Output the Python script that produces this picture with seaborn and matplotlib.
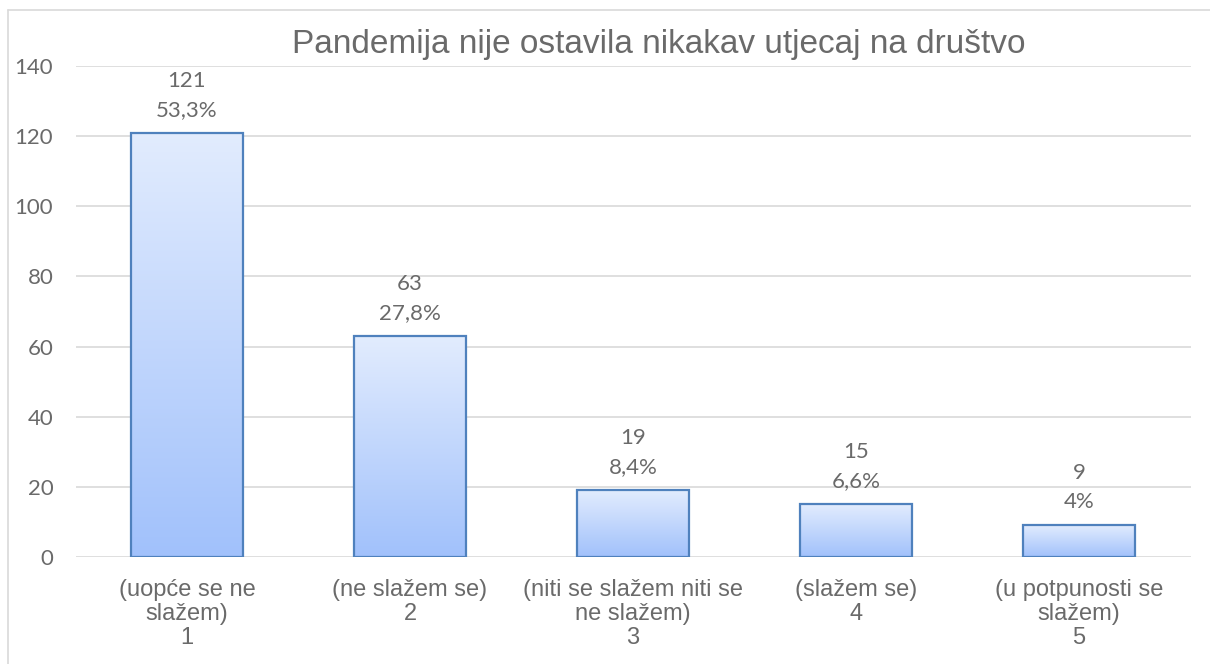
import numpy as np
import pandas as pd
import seaborn as sns
from matplotlib import pyplot as plt
from matplotlib.colors import LinearSegmentedColormap

categories = ["(uopće se ne\nslažem)\n1", "(ne slažem se)\n2", "(niti se slažem niti se\nne slažem)\n3",
	"(slažem se)\n4", "(u potpunosti se\nslažem)\n5"]
counts = [121, 63, 19, 15, 9]
percents = ["53,3%", "27,8%", "8,4%", "6,6%", "4%"]
title = "Pandemija nije ostavila nikakav utjecaj na društvo"

df = pd.DataFrame({"cat": categories, "n": counts, "pct": percents})

sns.set_theme(style="white")
plt.rcParams['font.family'] = ['Liberation Sans', 'DejaVu Sans']
grey = "#6a6a6a"

fig = plt.figure(figsize=(12.10, 6.64), dpi=100)
ax = fig.add_axes([75.5/1210, 1-557/664, 1115/1210, 491/664])

sns.barplot(data=df, x="cat", y="n", ax=ax, width=0.502, color="#a1c1fb",
	edgecolor="#4f81bd", linewidth=1.6, zorder=3)

# gradient fill clipped to each bar
grad = LinearSegmentedColormap.from_list("g", ["#a1c1fb", "#e2ecfe"])
for p in ax.patches:
	x0, y0 = p.get_x(), p.get_y()
	w, h = p.get_width(), p.get_height()
	im = ax.imshow(np.linspace(0, 1, 256).reshape(-1, 1), cmap=grad, aspect="auto",
		origin="lower", extent=[x0, x0+w, y0, y0+h], zorder=3.5)
	im.set_clip_path(p)
	p.set_facecolor("none")
	p.set_zorder(4)

ax.set_xlim(-0.5, 4.5)
ax.set_ylim(0, 140)
ax.set_yticks(range(0, 141, 20))
ax.yaxis.grid(True, color="#d9d9d9", lw=1.2, zorder=0)
ax.xaxis.grid(False)
for s in ax.spines.values():
	s.set_visible(False)
ax.set_xlabel("")
ax.set_ylabel("")
ax.tick_params(axis="y", length=0, pad=16, labelsize=16, labelcolor=grey)
ax.tick_params(axis="x", length=0, pad=15.5, labelsize=17, labelcolor=grey)
for t in ax.get_yticklabels():
	t.set_fontfamily("Lato")
for t in ax.get_xticklabels():
	t.set_linespacing(1.12)

for i, (n, pc) in enumerate(zip(counts, percents)):
	ax.annotate(str(n), (i, n), xytext=(0, 52), textcoords="offset pixels",
		ha="center", va="center", fontsize=16, color=grey, family="Lato")
	ax.annotate(pc, (i, n), xytext=(0, 23), textcoords="offset pixels",
		ha="center", va="center", fontsize=16, color=grey, family="Lato")

fig.text(658.5/1210, 1-45/664, title, ha="center", va="center", fontsize=24, color=grey)

# chart area border
fig.add_artist(plt.Line2D([8/1210, 8/1210], [0, 1-10/664], color="#d9d9d9", lw=1.2))
fig.add_artist(plt.Line2D([8/1210, 1], [1-10/664, 1-10/664], color="#d9d9d9", lw=1.2))

fig.savefig("out.png", dpi=100)
